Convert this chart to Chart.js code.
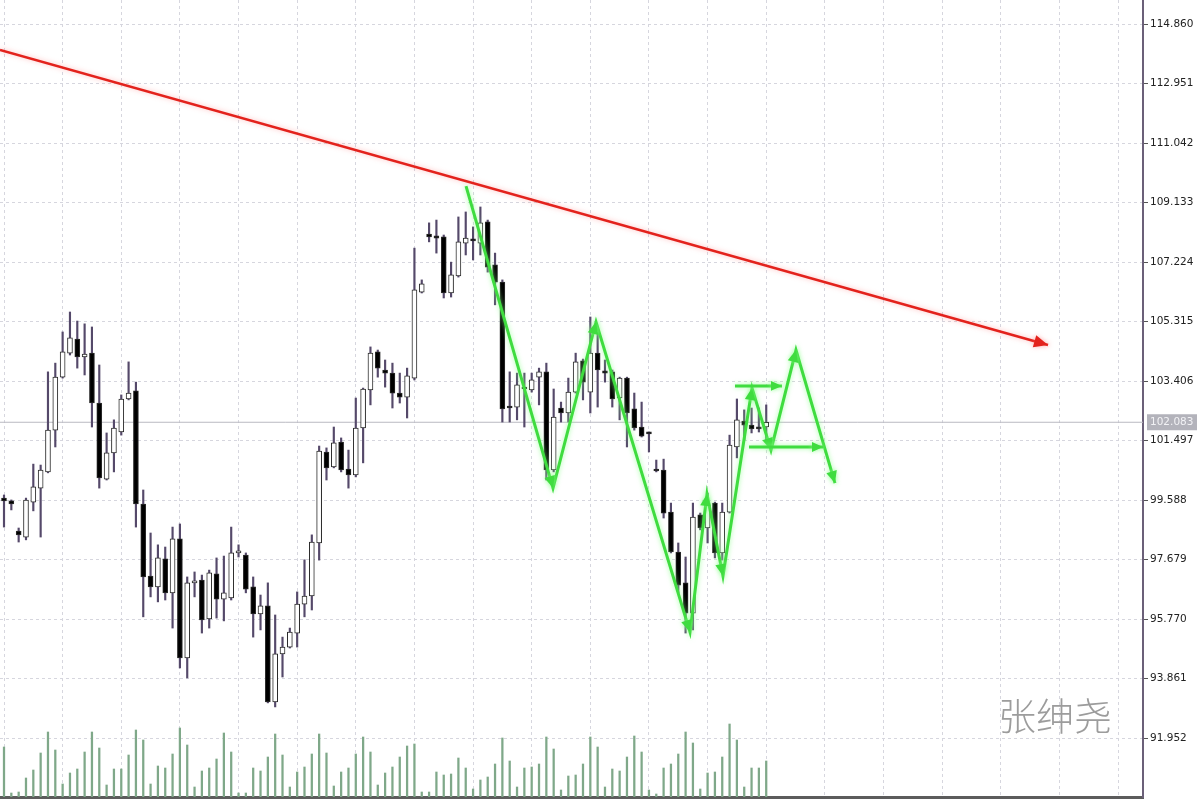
<!DOCTYPE html>
<html><head><meta charset="utf-8">
<script src="https://cdn.jsdelivr.net/npm/chart.js@4/dist/chart.umd.min.js"></script>
<style>html,body{margin:0;padding:0;background:#fff;}canvas{display:block;}</style>
</head><body>
<canvas id="c" width="1200" height="800"></canvas>
<script>
const opens = [99.65,99.56,98.59,98.40,99.52,99.97,100.49,101.83,103.53,104.30,
104.75,104.18,104.30,102.70,100.26,101.10,101.77,102.83,103.09,99.46,
97.15,96.80,97.70,96.61,98.34,94.52,96.93,97.02,95.77,97.22,
96.41,96.45,97.89,97.82,96.80,95.93,96.19,93.11,94.65,94.87,
95.32,96.25,96.51,98.21,101.13,100.65,101.45,100.58,100.39,101.90,
103.12,104.34,103.76,103.66,103.02,102.89,103.50,106.26,108.12,108.06,
108.03,106.23,106.78,107.83,107.93,107.83,108.51,107.13,106.58,102.60,
102.57,103.21,103.12,103.53,103.70,100.55,102.54,102.38,103.05,104.05,
103.05,104.30,103.73,103.70,102.86,103.50,102.51,101.93,101.74,100.55,
100.55,99.20,97.92,96.93,95.96,99.11,98.69,99.49,97.89,99.20,
101.29,102.12,101.99,101.90,101.93];
const closes = [99.56,99.46,98.47,99.59,100.01,100.55,101.83,103.53,104.34,104.79,
104.18,104.27,102.70,100.30,101.10,101.90,102.83,103.02,99.46,97.12,
96.80,97.73,96.61,98.34,94.52,96.93,96.99,95.74,97.25,96.41,
96.61,97.89,97.92,96.73,95.93,96.19,93.11,94.65,94.87,95.35,
96.25,96.51,98.24,101.16,100.62,101.42,100.55,100.39,101.90,103.15,
104.30,103.82,103.66,103.02,102.89,103.57,106.33,106.52,108.03,107.99,
106.23,106.81,107.87,107.99,107.90,108.48,107.06,106.58,102.51,102.54,
103.28,103.15,103.44,103.70,100.55,102.25,102.38,103.05,104.02,103.37,
104.30,103.76,103.66,102.83,103.50,102.38,101.90,101.64,101.71,100.52,
99.17,97.92,96.86,95.96,99.04,98.69,99.49,97.89,99.20,101.35,
102.16,101.99,101.87,101.87,102.083];
const highs = [99.75,99.59,98.69,99.65,100.74,100.71,103.70,103.98,104.98,105.62,
105.33,105.24,105.14,103.92,101.74,102.16,102.96,104.02,103.37,99.91,
98.53,98.15,98.08,98.72,98.82,97.12,97.28,97.18,97.34,97.73,
97.79,98.72,98.15,97.89,97.12,96.54,96.93,95.90,95.19,95.48,
96.64,97.67,98.47,101.32,101.26,101.93,101.58,101.19,102.86,103.18,
104.50,104.40,104.08,103.98,103.66,103.82,107.67,106.65,108.48,108.57,
108.09,107.22,108.67,108.83,108.35,108.99,108.57,107.51,106.65,103.70,
103.66,103.66,103.66,103.82,103.98,103.15,102.73,103.50,104.30,104.11,
105.46,104.95,104.08,103.76,103.53,103.53,103.02,102.73,101.77,100.87,
100.90,99.49,98.21,97.76,99.49,99.17,99.81,99.52,99.49,101.67,
102.83,102.48,102.54,102.54,102.64];
const lows = [98.72,99.27,98.24,98.31,99.24,98.40,100.46,101.29,103.50,104.24,
103.82,103.60,101.93,99.97,100.23,100.49,101.67,102.80,98.72,95.84,
96.48,96.32,96.38,95.48,94.20,93.88,96.48,95.32,95.48,95.80,
95.71,96.38,97.76,96.61,95.19,95.42,93.08,92.95,93.91,94.84,
94.87,95.84,96.06,97.66,100.23,100.62,100.49,99.97,100.33,100.78,
102.64,103.53,103.21,102.54,102.70,102.22,103.44,106.23,107.87,107.51,
106.07,106.10,106.74,107.45,107.29,107.45,106.90,105.85,102.09,102.09,
102.16,101.93,103.05,102.64,100.23,100.49,102.09,102.09,103.02,102.80,
102.38,102.57,103.37,102.57,102.16,101.29,101.83,101.61,101.13,100.49,
99.01,97.89,96.61,95.32,95.42,98.63,98.21,97.73,97.66,99.17,
100.94,101.51,101.74,101.77,101.45];
const volumes = [50,4,5,19,27,44,65,47,13,24,
28,45,65,49,12,28,28,42,67,57,
13,31,29,43,69,52,10,26,29,38,
64,45,4,4,29,26,40,63,42,10,
25,30,43,63,44,11,25,29,43,60,
45,12,24,30,40,51,53,5,5,25,
22,23,39,29,8,17,20,33,59,36,
10,29,30,33,60,48,7,21,22,33,
60,50,10,28,26,40,61,45,7,3,
29,33,43,65,54,8,24,25,40,73,
57,10,29,29,36];
const priceTicks = [114.860,112.951,111.042,109.133,107.224,105.315,103.406,101.497,99.588,97.679,95.770,93.861,91.952];
const trendLine = [{x:-0.55,y:114.03},{x:142.45,y:104.56}];
const zigzag = [{x:63.04,y:109.66},{x:74.91,y:99.97},{x:80.78,y:105.30},{x:93.60,y:95.35},{x:95.92,y:99.78},{x:98.10,y:97.15},{x:102.06,y:103.18},{x:104.65,y:101.19},{x:108.06,y:104.40},{x:113.38,y:100.13}];
const arrowUpper = [{x:99.74,y:103.25},{x:106.15,y:103.25}];
const arrowLower = [{x:101.65,y:101.29},{x:111.75,y:101.29}];
const watermark = '张绅尧';

const X_MIN = -0.546, X_MAX = 155.41, Y_MIN = 90.06, Y_MAX = 115.63;
const lastPrice = closes[closes.length - 1];
const idx = opens.map((_, i) => i);

const arrowPlugin = {
  id: 'arrows',
  beforeDatasetDraw(chart, args) {
    const ds = chart.data.datasets[args.index];
    chart.ctx.save();
    if (ds.glow) { chart.ctx.shadowColor = ds.glow; chart.ctx.shadowBlur = 5; }
  },
  afterDatasetDraw(chart, args) {
    const ctx = chart.ctx;
    const ds = chart.data.datasets[args.index];
    if (ds.arrowAt) {
      const pts = chart.getDatasetMeta(args.index).data;
      ctx.fillStyle = ds.borderColor;
      ds.arrowAt.forEach(i => {
        const a = pts[i - 1], b = pts[i];
        const ang = Math.atan2(b.y - a.y, b.x - a.x);
        const L = ds.arrowSize, W = ds.arrowSize * 0.45;
        const bx = b.x - L * Math.cos(ang), by = b.y - L * Math.sin(ang);
        ctx.beginPath();
        ctx.moveTo(b.x, b.y);
        ctx.lineTo(bx + W * Math.sin(ang), by - W * Math.cos(ang));
        ctx.lineTo(bx - W * Math.sin(ang), by + W * Math.cos(ang));
        ctx.closePath();
        ctx.fill();
      });
    }
    ctx.restore();
  },
  afterDraw(chart) {
    const ctx = chart.ctx;
    const ys = chart.scales.y;
    const py = ys.getPixelForValue(lastPrice);
    const x0 = chart.chartArea.right + 4;
    ctx.save();
    ctx.fillStyle = '#b3b3bb';
    ctx.fillRect(x0, py - 8, 50, 16);
    ctx.fillStyle = '#f2f2f5';
    ctx.font = '10.5px "DejaVu Sans"';
    ctx.textBaseline = 'middle';
    ctx.textAlign = 'left';
    ctx.fillText(lastPrice.toFixed(3), x0 + 3, py + 0.5);
    ctx.fillStyle = '#9c9c9c';
    ctx.font = '300 38px "Noto Sans CJK SC"';
    ctx.textBaseline = 'middle';
    ctx.fillText(watermark, 998, 716);
    ctx.restore();
  }
};

new Chart(document.getElementById('c'), {
  type: 'bar',
  data: {
    datasets: [
      { label: 'volume', data: idx.map(i => ({x: i, y: volumes[i]})), yAxisID: 'yv',
        backgroundColor: '#7fa889', barThickness: 1.6, grouped: false, order: 7 },
      { type: 'line', label: 'price', data: [{x: X_MIN, y: lastPrice}, {x: X_MAX, y: lastPrice}],
        borderColor: '#b9b9c1', borderWidth: 1, pointRadius: 0, yAxisID: 'y', order: 6 },
      { label: 'wicks', data: idx.map(i => ({x: i, y: [lows[i], highs[i]]})), yAxisID: 'y',
        backgroundColor: '#55496a', barThickness: 1.5, grouped: false, order: 5 },
      { label: 'bodies', data: idx.map(i => ({x: i, y: [opens[i], closes[i]]})), yAxisID: 'y',
        backgroundColor: c => closes[c.dataIndex] >= opens[c.dataIndex] ? '#ffffff' : '#000000',
        borderColor: '#2b2b2b', borderWidth: 1, borderSkipped: false, minBarLength: 2,
        barThickness: 5, grouped: false, order: 4 },
      { type: 'line', label: 'trend', data: trendLine, borderColor: '#e3221c', borderWidth: 2.5,
        pointRadius: 0, yAxisID: 'y', order: 3, arrowAt: [1], arrowSize: 14, glow: 'rgba(255,120,120,0.5)' },
      { type: 'line', label: 'zigzag', data: zigzag, borderColor: '#3fdc3f', borderWidth: 3,
        pointRadius: 0, yAxisID: 'y', order: 2, arrowAt: [1,2,3,4,5,6,7,8,9], arrowSize: 12, glow: 'rgba(140,255,140,0.8)' },
      { type: 'line', label: 'upper', data: arrowUpper, borderColor: '#3fdc3f', borderWidth: 3,
        pointRadius: 0, yAxisID: 'y', order: 1, arrowAt: [1], arrowSize: 11, glow: 'rgba(140,255,140,0.8)' },
      { type: 'line', label: 'lower', data: arrowLower, borderColor: '#3fdc3f', borderWidth: 3,
        pointRadius: 0, yAxisID: 'y', order: 1, arrowAt: [1], arrowSize: 11, glow: 'rgba(140,255,140,0.8)' }
    ]
  },
  options: {
    responsive: false, animation: false,
    layout: { padding: 0 },
    plugins: { legend: { display: false }, tooltip: { enabled: false } },
    scales: {
      x: { type: 'linear', position: 'bottom', min: X_MIN, max: X_MAX, offset: false,
        afterBuildTicks: s => { const t = []; for (let v = 0; v <= 152; v += 8) t.push({value: v}); s.ticks = t; },
        afterFit: s => { s.height = 3; s.paddingLeft = 0; s.paddingRight = 0; },
        ticks: { display: false },
        grid: { color: '#d6d6de', drawTicks: false, offset: false },
        border: { color: '#5c5c5c', width: 3, dash: [3, 3] } },
      y: { type: 'linear', position: 'right', min: Y_MIN, max: Y_MAX,
        afterBuildTicks: s => { s.ticks = priceTicks.map(v => ({value: v})); },
        afterFit: s => { s.width = 57; s.paddingTop = 0; s.paddingBottom = 0; },
        ticks: { callback: v => Number(v).toFixed(3), color: '#222', font: { family: 'DejaVu Sans', size: 10.5 }, padding: 2, autoSkip: false },
        grid: { color: '#d6d6de', tickColor: '#555', tickLength: 5, tickBorderDash: [], tickWidth: 1 },
        border: { color: '#6b6079', width: 2, dash: [3, 3] } },
      yv: { type: 'linear', display: false, min: 0, max: 797 }
    }
  },
  plugins: [arrowPlugin]
});
</script>
</body></html>
